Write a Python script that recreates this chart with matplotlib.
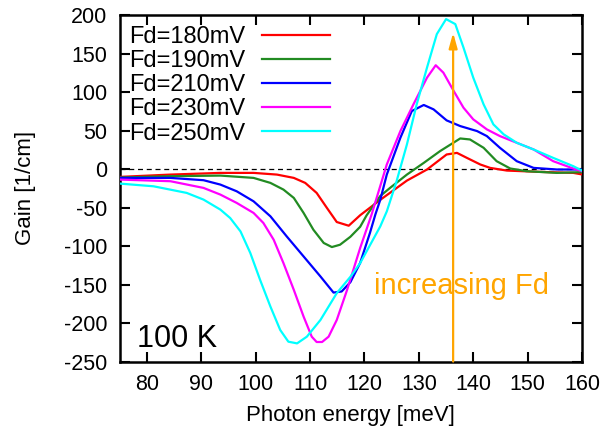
import matplotlib
matplotlib.use("Agg")
import matplotlib.pyplot as plt

plt.rcParams['font.family'] = ['Liberation Sans', 'DejaVu Sans']
plt.rcParams['axes.unicode_minus'] = False

# ---- data ----
labels = ["Fd=180mV", "Fd=190mV", "Fd=210mV", "Fd=230mV", "Fd=250mV"]
colors = ["#ff0000", "#228b22", "#0000ff", "#ff00ff", "#00ffff"]

x_180 = [75, 84.3, 93.5, 99.6, 103.9, 107, 109.1, 111.2, 113.1, 114.9, 117.1, 119.2, 122.9,
         127.8, 131.5, 135.1, 137, 138.8, 141.3, 143.1, 146.2, 152.3, 158.4, 160]
y_180 = [-10.2, -7.2, -5, -5, -7.2, -11.5, -18, -31, -50.6, -68.8, -73.6, -60, -40,
         -15, -0.6, 18.9, 21, 14.6, 5.9, 1.5, -2, -3.7, -5, -7]

x_190 = [75, 84.3, 93.5, 99.6, 102.7, 105.1, 107, 108.8, 110.6, 112.5, 114, 115.5, 117.4,
         119.2, 120.4, 122.9, 124.7, 127.8, 130.9, 133.9, 137.6, 139.4, 141.9, 144.3,
         146.8, 149.8, 155.4, 160]
y_190 = [-11, -9.3, -8.5, -11.5, -18, -26.7, -37.5, -57, -78.8, -96, -101.3, -98.3, -88,
         -75, -60, -35, -24.5, -7.2, 8, 23.3, 39.7, 38.4, 27.6, 10.2,
         0.7, -2.8, -5, -4]

x_210 = [75, 84.3, 90.4, 93.5, 96.5, 99.6, 102.7, 105.7, 108.8, 111.9, 114.3, 115.8, 117.4,
         119.2, 121, 122, 122.9, 124.1, 126.6, 128.7, 130.9, 132.7, 135.1, 137.6, 140.7,
         142.5, 144.9, 148, 151.1, 155.4, 160]
y_210 = [-11.5, -11.5, -14.5, -20.2, -28.9, -41.9, -61.4, -87.5, -113.5, -139.5, -160.4, -159, -147,
         -122, -83, -59, -40, -7.2, 40.6, 75.3, 83.2, 77.5, 63.2, 55.8, 49.3,
         42.8, 27.6, 10.2, 1.5, -0.6, -0.6]

x_230 = [75, 84.3, 90.4, 93.5, 96.5, 99.6, 101.4, 103.3, 105.1, 107, 108.8, 110.3, 111.2,
         112.2, 113.4, 114.9, 116.8, 119.2, 121.3, 124.1, 126.6, 129, 131.5, 133.1, 134.5,
         136.4, 138.2, 140, 142.5, 144.9, 148, 151.1, 154.7, 158.4, 160]
y_230 = [-13.7, -15.8, -24.5, -33.2, -44, -57, -70, -91.8, -122.2, -156.9, -191.6, -217.7, -224.6,
         -224.6, -217.7, -196, -156.9, -102.6, -59.2, 5.9, 49.3, 84, 118.7, 134.8, 125.2,
         101.4, 79.7, 64.5, 51.5, 42.8, 34.1, 25.4, 10.2, 0.7, -2.8]

x_250 = [75, 81.2, 87.3, 90.4, 93.5, 95.3, 97.2, 99, 100.8, 102.7, 104.5, 106, 107.6, 109.4,
         111.9, 114.9, 117.4, 119.2, 122.9, 124.1, 125.9, 127.8, 129.6, 131.5, 133.3, 135,
         136.7, 138.2, 140, 141.9, 143.7, 145.6, 148, 151.1, 154.7, 158.4, 160]
y_250 = [-18.9, -22.4, -31, -39.7, -52.7, -63.6, -81, -109, -143.9, -178.6, -209, -224.2, -226.4, -217.7,
         -196, -161.2, -140, -122.2, -74.5, -55, -15.8, 31.9, 84, 131.8, 175.2, 194.7,
         188.2, 157.8, 118.7, 84, 58, 45, 34.1, 25.4, 14.5, 3.7, -2]

xs = [x_180, x_190, x_210, x_230, x_250]
ys = [y_180, y_190, y_210, y_230, y_250]

arrow_x = 136.3
arrow_y0, arrow_y1 = -250, 177
xticks = [80, 90, 100, 110, 120, 130, 140, 150, 160]
yticks = [-250, -200, -150, -100, -50, 0, 50, 100, 150, 200]

# ---- figure ----
fig = plt.figure(figsize=(6.05, 4.42), dpi=100)
ax = fig.add_axes([0.198, 0.182, 0.764, 0.784])

ax.axhline(0, color="black", lw=0.9, ls=(0, (4, 3)), zorder=1)

for x, y, c, lab in zip(xs, ys, colors, labels):
    ax.plot(x, y, color=c, lw=1.6, label=lab, zorder=3, solid_joinstyle="round")

ax.annotate("", xy=(arrow_x, arrow_y1), xytext=(arrow_x, arrow_y0),
            arrowprops=dict(arrowstyle="-|>,head_length=0.9,head_width=0.25",
                            color="#ffa500", lw=1.6, shrinkA=0, shrinkB=0),
            zorder=4)
ax.text(121.7, -162, "increasing Fd", color="#ffa500", fontsize=21,
        ha="left", va="baseline", zorder=5)
ax.text(78.1, -231, "100 K", color="black", fontsize=22, ha="left", va="baseline")

ax.set_xlim(75, 160)
ax.set_ylim(-250, 200)
ax.set_xticks(xticks)
ax.set_yticks(yticks)
ax.tick_params(direction="in", length=7, width=1.5, top=True, right=True,
               labelsize=15.5, pad=9)
for s in ax.spines.values():
    s.set_linewidth(1.8)

ax.set_xlabel("Photon energy [meV]", fontsize=16, labelpad=7)
ax.set_ylabel("Gain [1/cm]", fontsize=16, labelpad=20)

ax.legend(loc="upper left", bbox_to_anchor=(0.02, 0.968), markerfirst=False,
          frameon=False, fontsize=17, handlelength=2.9, handletextpad=0.7,
          labelspacing=0.09, borderpad=0, borderaxespad=0)

fig.savefig("out.png", dpi=100)
